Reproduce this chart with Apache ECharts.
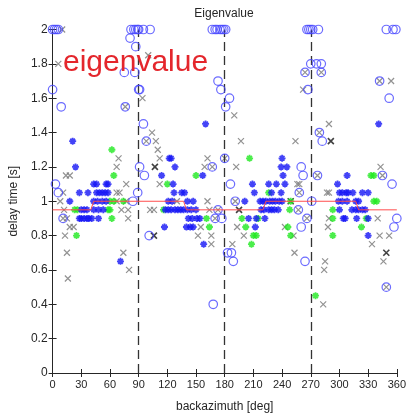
<!DOCTYPE html>
<html>
<head>
<meta charset="utf-8">
<script src="https://cdn.jsdelivr.net/npm/echarts@6/dist/echarts.min.js"></script>
<style>html,body{margin:0;padding:0;background:#fff}#c{width:409px;height:418px}</style>
</head>
<body>
<div id="c"></div>
<script>
// ---- data (backazimuth [deg], delay time [s]) ----
const xTicks = [0, 30, 60, 90, 120, 150, 180, 210, 240, 270, 300, 330, 360];
const yTicks = [0, 0.2, 0.4, 0.6, 0.8, 1, 1.2, 1.4, 1.6, 1.8, 2];
const dividers = [90, 180, 270];

const blueCircles = [
  [0,2],[2,2],[4,2],[6,2],[82,2],[85,2],[87,2],[89,2],[90,2],[95,2],[102,2],
  [167,2],[170,2],[172,2],[175,2],[177,2],[179,2],[181,2],
  [266,2],[268,2],[270,2],[272,2],[278,2],[349,2],[356,2],[359,2],
  [0,1.65],[9,1.55],[81,1.95],[87,1.9],[75,1.75],[86,1.75],[90,1.65],[91,1.65],[76,1.55],[95,1.45],
  [173,1.7],[176,1.65],[185,1.6],[181,1.55],[264,1.75],[267,1.65],[270,1.8],[276,1.8],[281,1.8],[281,1.75],
  [279,1.4],[342,1.7],[352,1.6],[98,1.35],[282,1.35],
  [3,1.1],[6,1.05],[11,0.9],[84,1.0],[89,1.05],
  [91,1.2],[96,1.15],[167,1.2],[173,0.95],[170,0.9],[177,0.9],[101,0.8],
  [180,1.25],[186,1.1],[191,1.0],[258,1.05],[260,1.2],[262,1.15],[257,0.95],[266,0.9],[260,0.85],[271,1.0],
  [183,0.7],[187,0.7],[189,0.65],[264,0.65],[168,0.4],
  [277,1.15],[345,1.15],[355,1.1],[360,0.9],[357,0.85],[349,0.5]
];

const grayCrosses = [
  [10,2],[6,1.8],[14,1.15],[18,1.15],[11,1.05],[8,1.0],[12,0.95],[15,0.9],[18,0.85],[22,0.85],[13,0.8],[15,0.7],[16,0.55],
  [67,1.05],[70,1.05],[67,1.0],[77,1.0],[72,0.95],[79,0.95],[79,0.9],[69,1.25],[67,1.2],[77,1.1],[74,0.7],[80,0.6],
  [94,1.6],[100,1.85],[104,1.4],[108,1.35],[110,1.3],[112,1.25],[112,1.1],[130,1.0],[102,0.95],[106,0.95],
  [162,1.25],[159,1.2],[162,1.0],[164,0.95],[155,0.85],[152,0.8],[166,0.8],[166,0.75],[190,1.5],
  [197,1.35],[254,1.35],[192,1.2],[256,1.1],[258,1.1],[193,0.85],[243,0.85],[200,0.8],[252,0.8],[188,0.75],[253,0.7],
  [262,1.65],[289,1.45],[283,0.4],[354,1.7],[343,1.2],[287,1.05],[289,1.05],[289,0.9],[340,0.9],[288,0.85],
  [342,0.8],[352,0.8],[334,0.75],[346,0.65],[285,0.65],[284,0.6],
  [11,0.9],[76,1.55],[264,1.75],[281,1.75],[279,1.4],[342,1.7],[98,1.35],[167,1.2],[173,0.95],[170,0.9],
  [180,1.25],[191,1.0],[258,1.05],[257,0.95],[266,0.9],[277,1.15],[345,1.15],[349,0.5]
];

const blackCrosses = [[107,1.2],[106,0.8],[195,0.95],[249,1.0],[291,1.35],[349,0.7]];

const blueStars = [
  [21,1.35],[24,1.2],[18,1.0],
  [43,1.1],[46,1.1],[56,1.1],[58,1.1],
  [28,1.05],[37,1.05],[46,1.05],[49,1.05],[52,1.05],[55,1.05],[58,1.05],
  [43,1.0],[47,1.0],[52,1.0],[56,1.0],
  [30,0.95],[33,0.95],[36,0.95],[43,0.95],[48,0.95],[53,0.95],
  [28,0.9],[30,0.9],[33,0.9],[36,0.9],[38,0.9],[41,0.9],[48,0.9],
  [71,0.65],
  [122,1.25],[124,1.25],[128,1.2],[114,1.15],[157,1.15],[126,1.1],[127,1.05],[135,1.05],[138,1.05],
  [121,1.0],[125,1.0],[141,1.0],[147,1.0],
  [118,0.95],[121,0.95],[124,0.95],[128,0.95],[131,0.95],[134,0.95],[137,0.95],[141,0.95],[145,0.95],[150,0.95],
  [142,0.9],[146,0.9],[151,0.9],[154,0.9],
  [117,0.85],[140,0.85],[144,0.85],[147,0.85],[158,0.75],[160,1.45],
  [240,1.25],[239,1.2],[245,1.2],[241,1.15],[209,1.1],[226,1.1],[234,1.1],[243,1.1],
  [211,1.05],[229,1.05],[239,1.05],
  [201,1.0],[217,1.0],[220,1.0],[223,1.0],[227,1.0],[230,1.0],[233,1.0],[237,1.0],[240,1.0],
  [218,0.95],[221,0.95],[226,0.95],[229,0.95],[232,0.95],[236,0.95],
  [205,0.9],[213,0.9],[222,0.9],[212,0.85],
  [341,1.45],[308,1.15],[298,1.1],
  [300,1.05],[303,1.05],[307,1.05],[309,1.05],[314,1.05],[324,1.05],[330,1.05],
  [299,1.0],[303,1.0],[308,1.0],[317,1.0],[320,1.0],
  [300,0.95],[313,0.95],[317,0.95],[320,0.95],[324,0.95],[327,0.95],
  [304,0.9],[306,0.9],[318,0.9],[330,0.9],[330,0.8]
];

const greenStars = [
  [62,1.3],[64,1.15],[60,1.0],[64,1.0],[74,1.0],[23,0.95],[26,0.95],[58,0.95],[60,0.95],[62,0.9],[25,0.8],
  [150,1.15],[120,1.1],[116,0.95],[161,0.9],[164,0.85],
  [206,1.25],[226,1.05],[248,0.95],[198,0.9],[215,0.9],[202,0.85],[246,0.85],[210,0.8],[213,0.8],[249,0.8],[208,0.75],[249,1.0],
  [275,0.45],[333,1.15],[336,1.15],[336,1.0],[339,1.0],[293,0.95],[293,0.9],[328,0.9],[323,0.85],[293,0.8]
];

const redLine = [[0,0.95],[40,0.95],[43,1.0],[137,1.0],[140,0.95],[220,0.95],[223,1.0],[317,1.0],[320,0.95],[360,0.95]];

// ---- chart ----
const xPath = 'path://M0,0L10,10M10,0L0,10';
const starPath = 'path://M5,0L5,10M0,5L10,5M1.6,1.6L8.4,8.4M8.4,1.6L1.6,8.4';
const FONT = 'Liberation Sans, Arial, sans-serif';
const TXT = '#262626';

const chart = echarts.init(document.getElementById('c'), null, {renderer: 'canvas'});

const baseX = {
  type: 'value', min: 0, max: 360, interval: 30,
  axisLine: {show: true, lineStyle: {color: TXT, width: 1}},
  axisTick: {show: true, inside: true, length: 4, lineStyle: {color: TXT}},
  splitLine: {show: false}
};
const baseY = {
  type: 'value', min: 0, max: 2, interval: 0.2,
  axisLine: {show: true, lineStyle: {color: TXT, width: 1}},
  axisTick: {show: true, inside: true, length: 4, lineStyle: {color: TXT}},
  splitLine: {show: false}
};

chart.setOption({
  animation: false,
  backgroundColor: '#fff',
  grid: {left: 51.5, right: 11, top: 29.5, bottom: 40.5, containLabel: false},
  xAxis: [
    Object.assign({}, baseX, {
      position: 'bottom',
      axisLabel: {show: true, color: TXT, fontSize: 11, fontFamily: FONT, margin: 6,
        formatter: v => xTicks.includes(v) ? String(v) : ''},
      name: 'backazimuth [deg]', nameLocation: 'middle', nameGap: 28,
      nameTextStyle: {color: TXT, fontSize: 12, fontFamily: FONT}
    }),
    Object.assign({}, baseX, {position: 'top', axisLabel: {show: false}})
  ],
  yAxis: [
    Object.assign({}, baseY, {
      position: 'left',
      axisLabel: {show: true, color: TXT, fontSize: 12, fontFamily: FONT, margin: 5,
        formatter: v => { const t = yTicks.find(k => Math.abs(k - v) < 1e-9); return t === undefined ? '' : String(t); }},
      name: 'delay time [s]', nameLocation: 'middle', nameGap: 31,
      nameTextStyle: {color: TXT, fontSize: 12, fontFamily: FONT}
    }),
    Object.assign({}, baseY, {position: 'right', axisLabel: {show: false}})
  ],
  graphic: [
    {type: 'text', x: 224, y: 14, style: {text: 'Eigenvalue', fill: TXT, font: '12px ' + FONT, align: 'center', verticalAlign: 'middle'}},
    {type: 'text', x: 63, y: 63, z: 200, style: {text: 'eigenvalue', fill: '#e4262c', font: '30px ' + FONT, align: 'left', verticalAlign: 'middle'}}
  ],
  series: [
    {
      type: 'line', data: [], silent: true,
      markLine: {
        symbol: 'none', silent: true, label: {show: false},
        lineStyle: {color: '#333', width: 1.3, type: [9, 5]},
        data: dividers.map(d => ({xAxis: d}))
      }
    },
    {type: 'scatter', name: 'gray', data: grayCrosses, symbol: xPath, symbolSize: 6, z: 3,
      itemStyle: {color: '#777', borderColor: '#777', borderWidth: 1.2}},
    {type: 'scatter', name: 'black', data: blackCrosses, symbol: xPath, symbolSize: 6, z: 4,
      itemStyle: {color: '#111', borderColor: '#111', borderWidth: 1.6}},
    {type: 'scatter', name: 'green', data: greenStars, symbol: starPath, symbolSize: 7, z: 5,
      itemStyle: {color: '#1ee81e', borderColor: '#1ee81e', borderWidth: 1.8}},
    {type: 'scatter', name: 'blue', data: blueStars, symbol: starPath, symbolSize: 7, z: 6,
      itemStyle: {color: '#1414f5', borderColor: '#1414f5', borderWidth: 1.8}},
    {type: 'scatter', name: 'circles', data: blueCircles, symbol: 'circle', symbolSize: 8.5, z: 7,
      itemStyle: {color: 'rgba(0,0,0,0)', borderColor: '#4646ff', borderWidth: 1.2}},
    {type: 'line', name: 'red', data: redLine, showSymbol: false, symbol: 'none', z: 8,
      lineStyle: {color: '#ff4d4d', width: 1}}
  ]
});
</script>
</body>
</html>
